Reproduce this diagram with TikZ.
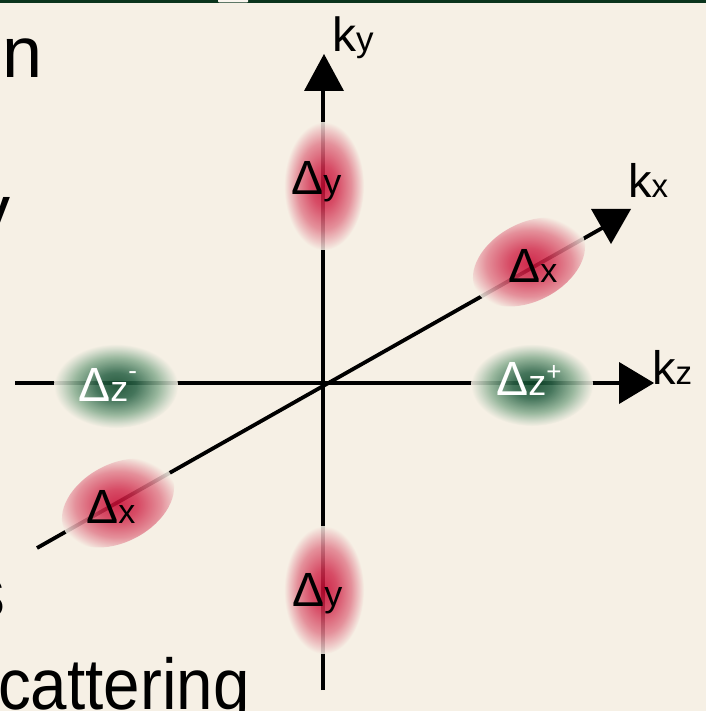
\documentclass[tikz,border=0pt]{standalone}
\usepackage{fontspec}
\setmainfont{Liberation Sans}
\definecolor{bg}{RGB}{246,240,229}
\definecolor{topgreen}{RGB}{10,52,28}
\definecolor{rc0}{RGB}{200,8,50}
\definecolor{rc1}{RGB}{210,48,80}
\definecolor{rc2}{RGB}{226,128,142}
\definecolor{rc3}{RGB}{238,196,196}
\definecolor{gc0}{RGB}{12,70,40}
\definecolor{gc1}{RGB}{44,100,72}
\definecolor{gc2}{RGB}{140,176,148}
\definecolor{gc3}{RGB}{208,218,202}
\pgfdeclareradialshading{redblob}{\pgfpoint{0bp}{0bp}}{color(0bp)=(rc0); color(8bp)=(rc1); color(17bp)=(rc2); color(22bp)=(rc3); color(25bp)=(bg); color(50bp)=(bg)}
\pgfdeclareradialshading{greenblob}{\pgfpoint{0bp}{0bp}}{color(0bp)=(gc0); color(8bp)=(gc1); color(17bp)=(gc2); color(22bp)=(gc3); color(25bp)=(bg); color(50bp)=(bg)}
\begin{document}
\begin{tikzpicture}[x=1pt,y=-1pt,
  axisline/.style={line width=3.8pt, black},
  tiphead/.style={fill=black},
  redspot/.style={shading=redblob, opacity=0.85},
  greenspot/.style={shading=greenblob, opacity=0.88},
  deltalab/.style={anchor=base west, inner sep=0pt},
  axislab/.style={anchor=base west, inner sep=0pt},
  sidetext/.style={inner sep=0pt, font=\fontsize{72}{72}\selectfont}]
\useasboundingbox (0,0) rectangle (706,711);
\clip (0,0) rectangle (706,711);
\fill[bg] (0,0) rectangle (706,711);
\fill[topgreen] (0,0) rectangle (706,3.5);
\fill[bg!60!white, rounded corners=1pt] (218,-2) rectangle (248,2.5);

% cropped side text
\node[sidetext, anchor=base west] (tn) at (2,78) {n};
\node[sidetext, anchor=base east] (ty) at (11,235) {y};
\node[sidetext, anchor=base east] (ts) at (6,617) {s};
\node[sidetext, anchor=base west] (tc) at (-2,709) {\scalebox{0.91}[1]{cattering}};

% axes coordinates
\coordinate (O) at (323,383);
\coordinate (ybot) at (323,690);
\coordinate (ytop) at (323,88);
\coordinate (zleft) at (15,383);
\coordinate (zright) at (621,383);
\coordinate (xll) at (37,548);
\coordinate (xur) at (604,227);

\draw[axisline] (ybot) -- (ytop);
\draw[axisline] (zleft) -- (zright);
\draw[axisline] (xll) -- (xur);

\fill[tiphead] (304,91) -- (344,91) -- (324,54) -- cycle;
\fill[tiphead] (619,362) -- (619,404) -- (654,383) -- cycle;
\fill[tiphead] (591,209) -- (631,209) -- (611,244) -- cycle;

% blobs
\shade[redspot] (324,186) ellipse [x radius=40, y radius=64];
\shade[redspot] (324,590) ellipse [x radius=40, y radius=64];
\begin{scope}[shift={(529,262)}, rotate=28]
  \shade[redspot] (0,0) ellipse [x radius=60, y radius=39];
\end{scope}
\begin{scope}[shift={(118,503)}, rotate=28]
  \shade[redspot] (0,0) ellipse [x radius=60, y radius=39];
\end{scope}
\shade[greenspot] (116,386) ellipse [x radius=62, y radius=42];
\shade[greenspot] (532,385) ellipse [x radius=61, y radius=41];

% labels
\node[deltalab] (dyt) at (291,195) {\fontsize{48}{48}\selectfont Δ\fontsize{36}{36}\selectfont y};
\node[deltalab] (dyb) at (292,606) {\fontsize{48}{48}\selectfont Δ\fontsize{36}{36}\selectfont y};
\node[deltalab] (dxr) at (508,282) {\fontsize{48}{48}\selectfont Δ\fontsize{34}{34}\selectfont x};
\node[deltalab] (dxl) at (86,523) {\fontsize{48}{48}\selectfont Δ\fontsize{34}{34}\selectfont x};
\node[deltalab, text=white] (dzm) at (78,401) {\fontsize{48}{48}\selectfont Δ\fontsize{36}{36}\selectfont z\raisebox{22pt}{\fontsize{26}{26}\selectfont -}};
\node[deltalab, text=white] (dzp) at (496,395) {\fontsize{48}{48}\selectfont Δ\fontsize{36}{36}\selectfont z\raisebox{15pt}{\fontsize{26}{26}\selectfont +}};

\node[axislab] (ky) at (332,52) {\fontsize{48}{48}\selectfont k\fontsize{35}{35}\selectfont y};
\node[axislab] (kx) at (628,197) {\fontsize{47}{47}\selectfont k\fontsize{33}{33}\selectfont x};
\node[axislab] (kz) at (652,384) {\fontsize{47}{47}\selectfont k\fontsize{33}{33}\selectfont z};
\end{tikzpicture}
\end{document}
